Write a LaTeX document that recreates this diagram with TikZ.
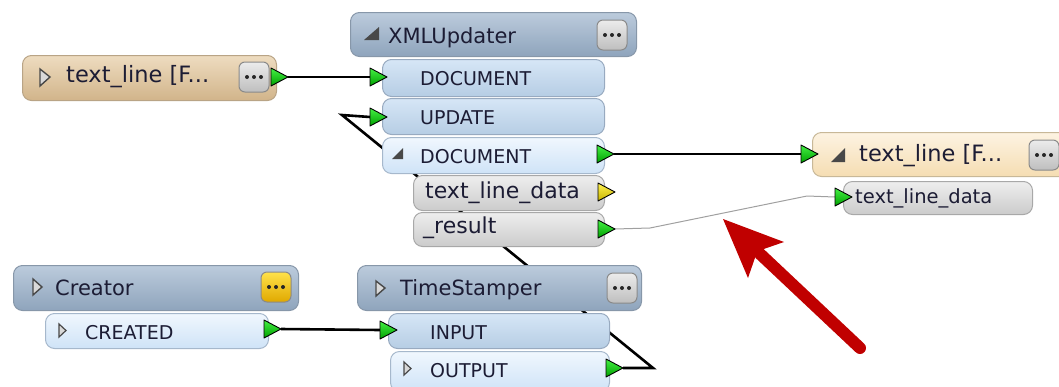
\documentclass[tikz,border=0pt]{standalone}
\usepackage{fontspec}
\setmainfont{DejaVu Sans}
\usetikzlibrary{calc}
\pgfdeclarelayer{bg}
\pgfsetlayers{bg,main}
\definecolor{steelT}{HTML}{BCCBDC}\definecolor{steelBot}{HTML}{8EA4BC}\definecolor{steelB}{HTML}{8797A9}
\definecolor{tanT}{HTML}{EEDCC0}\definecolor{tanBot}{HTML}{D1B48A}\definecolor{tanB}{HTML}{B9A486}
\definecolor{creamT}{HTML}{FDF3E2}\definecolor{creamBot}{HTML}{F5DDB2}\definecolor{creamB}{HTML}{C8B898}
\definecolor{inT}{HTML}{D6E6F6}\definecolor{inBot}{HTML}{B6CDE4}\definecolor{inB}{HTML}{98AAC0}
\definecolor{outT}{HTML}{F0F7FE}\definecolor{outBot}{HTML}{CFE3F7}\definecolor{outB}{HTML}{A6B8CC}
\definecolor{attrT}{HTML}{EEEEEE}\definecolor{attrBot}{HTML}{CBCBCB}\definecolor{attrB}{HTML}{A8A8A8}
\definecolor{btnT}{HTML}{ECECEC}\definecolor{btnBot}{HTML}{BEBEBE}\definecolor{btnB}{HTML}{8A8A8A}
\definecolor{yelT}{HTML}{FFE24A}\definecolor{yelBot}{HTML}{E0A800}
\definecolor{gT}{HTML}{44F044}\definecolor{gB}{HTML}{00A000}
\definecolor{ypT}{HTML}{FFF250}\definecolor{ypB}{HTML}{C8B400}
\definecolor{txt}{HTML}{1C1C34}\definecolor{indc}{HTML}{484848}
\definecolor{redA}{HTML}{C00000}\definecolor{thin}{HTML}{A0A0A0}
\newcommand\rsHdr{\fontsize{21}{24}\selectfont}
\newcommand\rsBig{\fontsize{22.5}{26}\selectfont}
\newcommand\rsPort{\fontsize{19}{22}\selectfont}
\newcommand\rsAttr{\fontsize{22}{25}\selectfont}
\newcommand\rsSmall{\fontsize{19.5}{22}\selectfont}
\begin{document}
\begin{tikzpicture}[x=1pt,y=-1pt,
  frame/.style={rectangle, rounded corners=9pt, anchor=north west, inner sep=0pt, line width=1pt},
  sz/.style 2 args={minimum width=#1pt, minimum height=#2pt},
  steel/.style={frame, draw=steelB, top color=steelT, bottom color=steelBot},
  tanbox/.style={frame, draw=tanB, top color=tanT, bottom color=tanBot},
  cream/.style={frame, draw=creamB, top color=creamT, bottom color=creamBot},
  inport/.style={frame, draw=inB, top color=inT, bottom color=inBot},
  outport/.style={frame, draw=outB, top color=outT, bottom color=outBot},
  attr/.style={frame, draw=attrB, top color=attrT, bottom color=attrBot},
  lbl/.style={anchor=base west, inner sep=0pt, text=txt},
  ind/.style={draw=indc, line width=1.4pt, fill=white!70!gray},
  exp/.style={fill=indc},
  conn/.style={draw=black, line width=2.6pt},
  thinconn/.style={draw=thin, line width=1pt},
  pics/btn/.style 2 args={code={
    \node[rectangle, rounded corners=6pt, minimum width=30pt, minimum height=30pt, inner sep=0pt,
      draw=btnB, line width=1pt, top color=#1, bottom color=#2] (-b) at (0,0) {};
    \fill[black!85] (-7,0) circle (2) (0,0) circle (2) (7,0) circle (2);
  }},
  pics/port/.style 2 args={code={
    \draw[line width=0.9pt, draw=black, top color=#1, bottom color=#2, line join=round]
      (0,-9) -- (17,0) -- (0,9) -- cycle;
    \coordinate (-in) at (0,0);
    \coordinate (-out) at (17,0);
  }}
]
\useasboundingbox (0,0) rectangle (1059,386);

% ---------- Reader ----------
\node[tanbox, sz={254}{45}] (rdr) at (22,55) {};
\draw[ind] (40,69) -- (50,77) -- (40,86) -- cycle;
\node[lbl, font=\rsBig] (rdrT) at (66,82) {text\_line [F...};
\path (254,77) pic (rdrB) {btn={btnT}{btnBot}};
\path (271,77) pic (rdrP) {port={gT}{gB}};

% ---------- XMLUpdater ----------
\node[steel, sz={286}{44}] (xmlu) at (350,12) {};
\fill[exp] (364,40) -- (379,40) -- (379,27) -- cycle;
\node[lbl, font=\rsHdr] (xmluT) at (388,43) {XMLUpdater};
\path (612,35) pic (xmluB) {btn={btnT}{btnBot}};

\node[inport, sz={222}{37}] (xin1) at (382,59) {};
\node[lbl, font=\rsPort] (xin1T) at (420,85) {DOCUMENT};
\path (370,77) pic (xin1P) {port={gT}{gB}};

\node[inport, sz={222}{36}] (xin2) at (382,98) {};
\node[lbl, font=\rsPort] (xin2T) at (420,124) {UPDATE};
\path (370,117) pic (xin2P) {port={gT}{gB}};

\node[outport, sz={222}{36}] (xout) at (382,137) {};
\fill[exp] (392,159) -- (403,159) -- (403,148) -- cycle;
\node[lbl, font=\rsPort] (xoutT) at (420,163) {DOCUMENT};
\path (597,154) pic (xoutP) {port={gT}{gB}};

\node[attr, sz={191}{35}] (xa1) at (413,175) {};
\node[lbl, font=\rsAttr] (xa1T) at (425,198) {text\_line\_data};
\path (598,192) pic (xa1P) {port={ypT}{ypB}};

\node[attr, sz={191}{34}] (xa2) at (413,212) {};
\node[lbl, font=\rsAttr] (xa2T) at (423,233) {\_result};
\path (598,229) pic (xa2P) {port={gT}{gB}};

% ---------- Writer ----------
\node[cream, sz={262}{44}] (wtr) at (812,132) {};
\fill[exp] (831,162) -- (845,162) -- (845,148) -- cycle;
\node[lbl, font=\rsBig] (wtrT) at (859,161) {text\_line [F...};
\path (1044,155) pic (wtrB) {btn={btnT}{btnBot}};
\path (801,154) pic (wtrP) {port={gT}{gB}};

\node[attr, sz={189}{33}] (wa1) at (843,181) {};
\node[lbl, font=\rsSmall] (wa1T) at (855,203) {text\_line\_data};
\path (835,197) pic (wa1P) {port={gT}{gB}};

% ---------- Creator ----------
\node[steel, sz={285}{45}] (crt) at (13,265) {};
\draw[ind] (33,279) -- (42,287) -- (33,295) -- cycle;
\node[lbl, font=\rsHdr] (crtT) at (55,295) {Creator};
\path (276,287) pic (crtB) {btn={yelT}{yelBot}};

\node[outport, sz={223}{35}] (cro) at (45,313) {};
\draw[ind, line width=1.2pt] (59,324) -- (66,330.5) -- (59,337) -- cycle;
\node[lbl, font=\rsPort] (croT) at (85,339) {CREATED};
\path (264,329) pic (croP) {port={gT}{gB}};

% ---------- TimeStamper ----------
\node[steel, sz={284}{45}] (ts) at (357,265) {};
\draw[ind] (376,281) -- (385,288) -- (376,296) -- cycle;
\node[lbl, font=\rsHdr] (tsT) at (400,295) {TimeStamper};
\path (622,288) pic (tsB) {btn={btnT}{btnBot}};

\node[inport, sz={221}{35}] (tsi) at (388,313) {};
\node[lbl, font=\rsPort] (tsiT) at (430,339) {INPUT};
\path (380,330) pic (tsiP) {port={gT}{gB}};

\node[outport, sz={219}{40}] (tso) at (390,351) {};
\draw[ind, line width=1.2pt] (404,362) -- (411,368.5) -- (404,375) -- cycle;
\node[lbl, font=\rsPort] (tsoT) at (430,377) {OUTPUT};
\path (606,368) pic (tsoP) {port={gT}{gB}};

% ---------- Connectors ----------
\coordinate (loopR) at (653,368);
\coordinate (loopL) at (342,115);
\coordinate (thinA) at (650,228);
\coordinate (thinB) at (807,196);
\begin{pgfonlayer}{bg}
  \draw[conn] (rdrP-out) -- (xin1P-in);
  \draw[conn, line join=miter] (tsoP-out) -- (loopR) -- (loopL) -- (xin2P-in);
  \draw[conn] (xoutP-out) -- (wtrP-in);
  \draw[conn] (croP-out) -- (tsiP-in);
  \draw[thinconn] (xa2P-out) -- (thinA) -- (thinB) -- (wa1P-in);
\end{pgfonlayer}

% ---------- Red annotation arrow ----------
\coordinate (rTail) at (860,348);
\coordinate (rTip) at (723,219);
\coordinate (rW1) at (784,242);
\coordinate (rW2) at (748,278);
\draw[redA, line width=12pt, line cap=round] (rTail) -- ($(rTip)!0.27!(rTail)$);
\fill[redA] (rTip) -- (rW1) -- ($(rTip)!0.25!(rTail)$) -- (rW2) -- cycle;
\end{tikzpicture}
\end{document}
